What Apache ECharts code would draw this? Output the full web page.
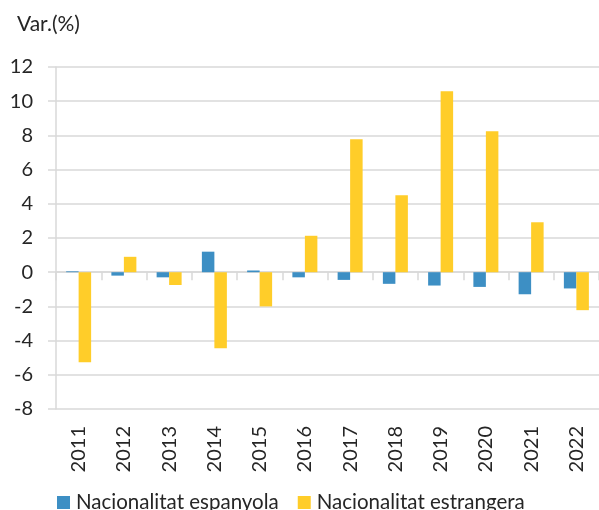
<!DOCTYPE html>
<html>
<head>
<meta charset="utf-8">
<script src="https://cdn.jsdelivr.net/npm/echarts@6/dist/echarts.min.js"></script>
<style>
  html, body { margin: 0; padding: 0; background: #fff; }
  #main { width: 599px; height: 510px; }
</style>
</head>
<body>
<div id="main"></div>
<script>
var years = ['2011', '2012', '2013', '2014', '2015', '2016', '2017', '2018', '2019', '2020', '2021', '2022'];
var espanyola = [0.05, -0.2, -0.3, 1.2, 0.1, -0.3, -0.45, -0.68, -0.78, -0.86, -1.29, -0.95];
var estrangera = [-5.27, 0.9, -0.75, -4.45, -2.0, 2.13, 7.78, 4.5, 10.58, 8.24, 2.92, -2.22];
var yTicks = [-8, -6, -4, -2, 0, 2, 4, 6, 8, 10, 12];

var chart = echarts.init(document.getElementById('main'));
var font = 'Lato, "Open Sans", sans-serif';

var option = {
    animation: false,
    textStyle: { fontFamily: font },
    title: {
        text: 'Var.(%)',
        left: 12,
        top: 9,
        textStyle: { fontFamily: font, fontSize: 21, fontWeight: 'normal', color: '#262626' }
    },
    legend: {
        data: ['Nacionalitat espanyola', 'Nacionalitat estrangera'],
        left: 52,
        top: 487,
        itemWidth: 13,
        itemHeight: 13,
        itemGap: 19,
        icon: 'rect',
        textStyle: { fontFamily: font, fontSize: 20.5, color: '#262626', padding: [0, 0, 0, 1] }
    },
    grid: { left: 56, right: -3, top: 67, bottom: 101, containLabel: false },
    xAxis: [
        {
            type: 'category',
            data: years,
            axisLine: { onZero: true, lineStyle: { color: '#d9d9d9', width: 1.5 } },
            axisTick: { show: true, length: 8, lineStyle: { color: '#d9d9d9', width: 1.5 } },
            axisLabel: { show: false }
        },
        {
            type: 'category',
            data: years,
            position: 'bottom',
            axisLine: { show: false, onZero: false },
            axisTick: { show: false },
            axisLabel: {
                rotate: 90,
                margin: 17,
                fontFamily: font,
                fontSize: 20,
                color: '#262626'
            }
        }
    ],
    yAxis: {
        type: 'value',
        min: yTicks[0],
        max: yTicks[yTicks.length - 1],
        interval: 2,
        axisLine: { show: true, lineStyle: { color: '#d9d9d9', width: 1.5 } },
        axisTick: { show: true, length: 8, lineStyle: { color: '#d9d9d9', width: 1.5 } },
        splitLine: { lineStyle: { color: '#d9d9d9', width: 1.5 } },
        axisLabel: { margin: 23, fontFamily: font, fontSize: 20, color: '#262626' }
    },
    series: [
        {
            name: 'Nacionalitat espanyola',
            type: 'bar',
            data: espanyola,
            barWidth: 12.5,
            barGap: '0%',
            itemStyle: { color: '#3d8fc4' }
        },
        {
            name: 'Nacionalitat estrangera',
            type: 'bar',
            data: estrangera,
            barWidth: 12.5,
            barGap: '0%',
            itemStyle: { color: '#ffcd29' }
        }
    ]
};

chart.setOption(option);
</script>
</body>
</html>
